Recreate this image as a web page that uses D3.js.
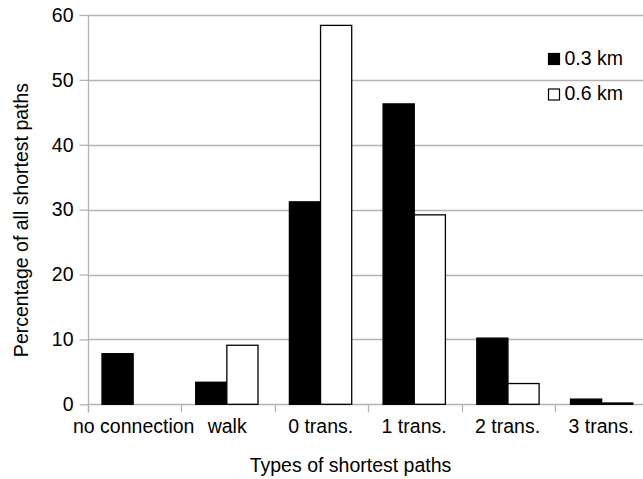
<!DOCTYPE html>
<html>
<head>
<meta charset="utf-8">
<script src="https://cdn.jsdelivr.net/npm/d3@7"></script>
<style>
  html, body { margin: 0; padding: 0; background: #fff; }
  svg { display: block; }
  text { font-family: "Liberation Sans", Arial, sans-serif; fill: #000; }
</style>
</head>
<body>
<svg id="chart" width="643" height="479"></svg>
<script>
const categories = ["no connection", "walk", "0 trans.", "1 trans.", "2 trans.", "3 trans."];
const seriesNames = ["0.3 km", "0.6 km"];
const values03 = [7.8, 3.4, 31.2, 46.3, 10.2, 0.8];
const values06 = [0, 9.1, 58.4, 29.2, 3.2, 0.2];
const yTicks = [0, 10, 20, 30, 40, 50, 60];

(function () {
const svg = d3.select("#chart");
const pLeft = 88, pRight = 648.8, pTop = 15, pBottom = 404.3;
const fontSize = 19.5;
const gridColor = "#b3b3b3";

const x = d3.scaleBand().domain(categories).range([pLeft, pRight]).paddingInner(0.335).paddingOuter(0.16);
const xOuter = d3.scaleBand().domain(categories).range([pLeft, pRight]).padding(0);
const xSeries = d3.scaleBand().domain(seriesNames).range([0, x.bandwidth()]).padding(0);
const y = d3.scaleLinear().domain([0, 60]).range([pBottom, pTop]);

// grid lines
svg.append("g").selectAll("line").data(yTicks).join("line")
  .attr("x1", pLeft).attr("x2", 643)
  .attr("y1", d => Math.round(y(d)) + 0.5).attr("y2", d => Math.round(y(d)) + 0.5)
  .attr("stroke", gridColor).attr("stroke-width", 1.3);

// y axis
const yAxis = svg.append("g").attr("transform", `translate(${pLeft + 0.5},0)`)
  .call(d3.axisLeft(y).tickValues(yTicks).tickSize(9).tickPadding(6).tickFormat(d3.format("d")));
yAxis.select(".domain").attr("stroke", gridColor).attr("stroke-width", 1.3).attr("d", `M0,${pTop}V${pBottom + 8}`);
yAxis.selectAll(".tick line").attr("stroke", gridColor).attr("stroke-width", 1.3);
yAxis.selectAll(".tick text").attr("font-size", fontSize).attr("font-family", "Liberation Sans, Arial, sans-serif").attr("fill", "#000");

// x axis ticks at band boundaries
const boundaries = categories.map(c => xOuter(c));
svg.append("g").selectAll("line").data(boundaries).join("line")
  .attr("x1", d => Math.round(d) + 0.5).attr("x2", d => Math.round(d) + 0.5)
  .attr("y1", pBottom).attr("y2", pBottom + 8)
  .attr("stroke", gridColor).attr("stroke-width", 1.3);

// x labels
svg.append("g").selectAll("text").data(categories).join("text")
  .attr("x", d => xOuter(d) + xOuter.bandwidth() / 2 - 1)
  .attr("y", 433)
  .attr("text-anchor", "middle")
  .attr("font-size", fontSize)
  .text(d => d);

// bars
const rows = categories.map((c, i) => ({ c, vals: [values03[i], values06[i]] }));
const g = svg.append("g").selectAll("g").data(rows).join("g")
  .attr("transform", d => `translate(${x(d.c) - 1},0)`);
g.selectAll("rect").data(d => d.vals.map((v, j) => ({ v, s: seriesNames[j] })).filter(e => e.v > 0)).join("rect")
  .attr("x", d => xSeries(d.s))
  .attr("y", d => y(d.v))
  .attr("width", xSeries.bandwidth())
  .attr("height", d => pBottom - y(d.v))
  .attr("fill", d => d.s === seriesNames[0] ? "#000" : "#fff")
  .attr("stroke", "#000")
  .attr("stroke-width", 1.3);

// legend
const legend = svg.append("g");
seriesNames.forEach((name, i) => {
  const ly = 53.5 + i * 35.5;
  legend.append("rect")
    .attr("x", 548.5).attr("y", ly).attr("width", 11).attr("height", 11)
    .attr("fill", i === 0 ? "#000" : "#fff").attr("stroke", "#000").attr("stroke-width", 1.2);
  legend.append("text")
    .attr("x", 564.5).attr("y", ly + 11)
    .attr("font-size", fontSize)
    .text(name);
});

// axis titles
svg.append("text")
  .attr("x", 350.5).attr("y", 472)
  .attr("text-anchor", "middle")
  .attr("font-size", fontSize)
  .text("Types of shortest paths");

svg.append("text")
  .attr("transform", "translate(28,220) rotate(-90)")
  .attr("text-anchor", "middle")
  .attr("font-size", fontSize)
  .text("Percentage of all shortest paths");
})();
</script>
</body>
</html>
